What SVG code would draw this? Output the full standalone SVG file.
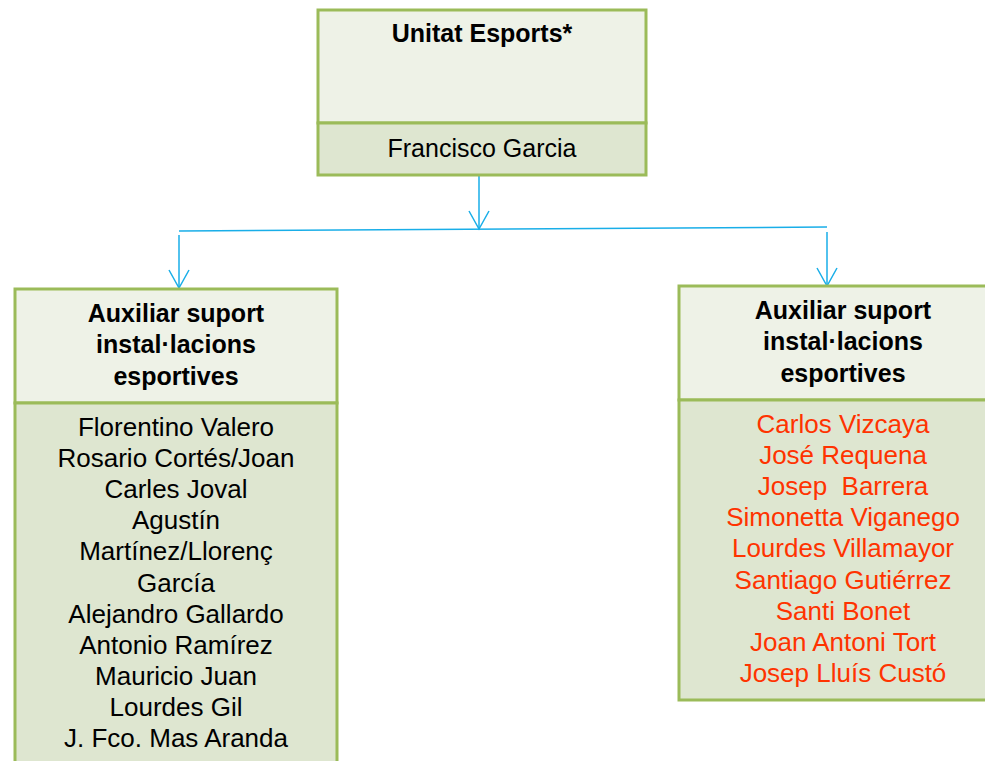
<svg xmlns="http://www.w3.org/2000/svg" width="985" height="761" viewBox="0 0 985 761">
<style>
.hd{fill:#EEF2E7;stroke:#9BBB59;stroke-width:3}
.bd{fill:#DEE6D0;stroke:#9BBB59;stroke-width:3}
text{font-family:"Liberation Sans",Arial,sans-serif;font-size:25px;text-anchor:middle;fill:#000}
.b{font-weight:bold}
.l{font-size:26px}
.red{fill:#FF3300}
.cn{fill:none;stroke:#19AEE8;stroke-width:1.5}
</style>
<defs>
<marker id="ah" markerWidth="24" markerHeight="24" refX="19" refY="11" orient="auto" markerUnits="userSpaceOnUse">
<path d="M1,1 L19,11 L1,21" fill="none" stroke="#19AEE8" stroke-width="1.5"/>
</marker>
</defs>
<rect width="985" height="761" fill="#fff"/>
<g id="connectors">
<line class="cn" x1="479" y1="176" x2="479" y2="229" marker-end="url(#ah)"/>
<line class="cn" x1="179" y1="231" x2="827" y2="227"/>
<line class="cn" x1="179" y1="235" x2="179" y2="288" marker-end="url(#ah)"/>
<line class="cn" x1="827" y1="232" x2="827" y2="286" marker-end="url(#ah)"/>
</g>
<g id="unitat">
<rect class="hd" x="318" y="10" width="328" height="113"/>
<rect class="bd" x="318" y="123" width="328" height="52"/>
<text class="b" x="482" y="42">Unitat Esports*</text>
<text x="482" y="157">Francisco Garcia</text>
</g>
<g id="aux-left">
<rect class="hd" x="15" y="289" width="322" height="114"/>
<rect class="bd" x="15" y="403" width="322" height="370"/>
<text class="b" x="176" y="322">Auxiliar suport</text>
<text class="b" x="176" y="353">instal·lacions</text>
<text class="b" x="176" y="385">esportives</text>
<text class="l" x="176" y="436">Florentino Valero</text>
<text class="l" x="176" y="467">Rosario Cortés/Joan</text>
<text class="l" x="176" y="498">Carles Joval</text>
<text class="l" x="176" y="529">Agustín</text>
<text class="l" x="176" y="560">Martínez/Llorenç</text>
<text class="l" x="176" y="592">García</text>
<text class="l" x="176" y="623">Alejandro Gallardo</text>
<text class="l" x="176" y="654">Antonio Ramírez</text>
<text class="l" x="176" y="685">Mauricio Juan</text>
<text class="l" x="176" y="716">Lourdes Gil</text>
<text class="l" x="176" y="747">J. Fco. Mas Aranda</text>
</g>
<g id="aux-right">
<rect class="hd" x="679" y="286" width="330" height="114"/>
<rect class="bd" x="679" y="400" width="330" height="300"/>
<text class="b" x="843" y="319">Auxiliar suport</text>
<text class="b" x="843" y="350">instal·lacions</text>
<text class="b" x="843" y="382">esportives</text>
<text class="l red" x="843" y="433">Carlos Vizcaya</text>
<text class="l red" x="843" y="464">José Requena</text>
<text class="l red" x="843" y="495" xml:space="preserve">Josep  Barrera</text>
<text class="l red" x="843" y="526">Simonetta Viganego</text>
<text class="l red" x="843" y="557">Lourdes Villamayor</text>
<text class="l red" x="843" y="589">Santiago Gutiérrez</text>
<text class="l red" x="843" y="620">Santi Bonet</text>
<text class="l red" x="843" y="651">Joan Antoni Tort</text>
<text class="l red" x="843" y="682">Josep Lluís Custó</text>
</g>
</svg>
